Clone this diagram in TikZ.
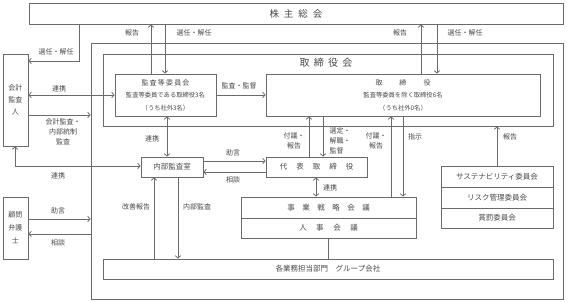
\documentclass[tikz,border=0pt]{standalone}
\usepackage{fontspec}
\setmainfont{Noto Sans CJK JP}
\usetikzlibrary{arrows.meta}
\definecolor{ln}{HTML}{6A6A6A}
\definecolor{tx}{HTML}{484848}
\tikzset{
  bx/.style={draw=ln, line width=0.75pt, inner sep=0pt, text=tx, align=center,
    font=\fontsize{7.5}{9}\selectfont},
  txt/.style={inner sep=0pt, text=tx, align=center},
  lab/.style={inner sep=0pt, text=tx, align=center, font=\fontsize{7}{10}\selectfont},
  conn/.style={draw=ln, line width=0.75pt},
  >={Straight Barb[length=2.5pt,width=5.5pt]},
}
\begin{document}
\begin{tikzpicture}[x=1pt,y=-1pt]
\useasboundingbox (0,0) rectangle (568,302);
% boxes
\node[bx, minimum width=534pt, minimum height=21pt] (sh) at (296,13.5)
  {\fontsize{9.5}{10}\selectfont 株\hspace{5pt}主\hspace{5pt}総\hspace{5pt}会};
\node[bx, minimum width=472pt, minimum height=256pt] (grp) at (327,171) {};
\node[bx, minimum width=450pt, minimum height=72pt] (board) at (328,90) {};
\node[txt, font=\fontsize{10}{11}\selectfont] (boardt) at (326,63)
  {取\hspace{4.3pt}締\hspace{4.3pt}役\hspace{4.3pt}会};
\node[bx, minimum width=101pt, minimum height=42pt, font=\fontsize{6.3}{12.5}\selectfont] (ac) at (165.5,95)
  {{\fontsize{7}{12.5}\selectfont 監\hspace{1.2pt}査\hspace{1.2pt}等\hspace{1.2pt}委\hspace{1.2pt}員\hspace{1.2pt}会}\\
   監査等委員である取締役3名\\（うち社外3名）};
\node[bx, minimum width=274pt, minimum height=42pt, font=\fontsize{6.3}{12.5}\selectfont] (dir) at (403,95)
  {{\fontsize{7}{12.5}\selectfont 取\hspace{17pt}締\hspace{17pt}役}\\
   監査等委員を除く取締役6名\\（うち社外0名）};
\node[bx, minimum width=25pt, minimum height=92pt, font=\fontsize{7}{12}\selectfont] (aud) at (15.5,100)
  {会計\\監査\\人};
\node[bx, minimum width=25pt, minimum height=62pt, font=\fontsize{7}{13}\selectfont] (law) at (15.5,228)
  {顧問\\弁護\\士};
\node[bx, minimum width=62pt, minimum height=20pt] (ia) at (172,167) {内部監査室};
\node[bx, minimum width=101pt, minimum height=20pt] (rep) at (316.5,167)
  {代\hspace{9pt}表\hspace{9pt}取\hspace{9pt}締\hspace{9pt}役};
\node[bx, minimum width=175pt, minimum height=21pt] (strat) at (328.5,207.5)
  {事\hspace{7.5pt}業\hspace{7.5pt}戦\hspace{7.5pt}略\hspace{7.5pt}会\hspace{7.5pt}議};
\node[bx, minimum width=175pt, minimum height=20pt] (hr) at (328.5,228)
  {人\hspace{9.5pt}事\hspace{9.5pt}会\hspace{9.5pt}議};
\node[bx, minimum width=112pt, minimum height=21pt] (sus) at (497,176.5) {サステナビリティ委員会};
\node[bx, minimum width=112pt, minimum height=21pt] (risk) at (497,197.5) {リスク管理委員会};
\node[bx, minimum width=112pt, minimum height=20pt] (rew) at (497,218) {賞罰委員会};
\node[bx, minimum width=450pt, minimum height=20pt] (dept) at (328,269)
  {各業務担当部門　グループ会社};
% connectors
\draw[conn,->] (sh.south -| 79,0) |- (aud.east |- 0,61);
\draw[conn,->] (ac.north -| 151,0) -- (sh.south -| 151,0);
\draw[conn,->] (sh.south -| 165,0) -- (ac.north -| 165,0);
\draw[conn,->] (dir.north -| 421,0) -- (sh.south -| 421,0);
\draw[conn,->] (sh.south -| 437,0) -- (dir.north -| 437,0);
\draw[conn,<->] (aud.east |- 0,95) -- (ac.west |- 0,95);
\draw[conn,->] (ac.east |- 0,95) -- (dir.west |- 0,95);
\draw[conn,->] (aud.east |- 0,115) -- (grp.west |- 0,115);
\draw[conn,<->] (ac.south -| 167,0) -- (ia.north -| 167,0);
\draw[conn,<->] (aud.south -| 15,0) |- (ia.west |- 0,166);
\draw[conn,->] (ia.east |- 0,161) -- (rep.west |- 0,161);
\draw[conn,->] (rep.west |- 0,172) -- (ia.east |- 0,172);
\draw[conn,->] (rep.north -| 309,0) -- (dir.south -| 309,0);
\draw[conn,->] (dir.south -| 323,0) -- (rep.north -| 323,0);
\draw[conn,<->] (rep.south -| 316,0) -- (strat.north -| 316,0);
\draw[conn,->] (strat.north -| 391,0) -- (dir.south -| 391,0);
\draw[conn,->] (dir.south -| 403,0) -- (strat.north -| 403,0);
\draw[conn,->] (sus.north) -- (board.south -| sus.north);
\draw[conn,->] (dept.north -| 154,0) -- (ia.south -| 154,0);
\draw[conn,->] (ia.south -| 178,0) -- (dept.north -| 178,0);
\draw[conn] (hr.south -| 328,0) -- (dept.north -| 328,0);
\draw[conn,->] (law.east |- 0,219) -- (grp.west |- 0,219);
\draw[conn,->] (grp.west |- 0,234) -- (law.east |- 0,234);
% labels
\node[lab] (l1) at (56,52) {選任・解任};
\node[lab] (l2) at (132,33) {報告};
\node[lab] (l3) at (194,33) {選任・解任};
\node[lab] (l4) at (400,33) {報告};
\node[lab] (l5) at (465,33) {選任・解任};
\node[lab] (l6) at (59,89) {連携};
\node[lab] (l7) at (239,86) {監査・監督};
\node[lab] (l8) at (63,132) {会計監査・\\内部統制\\監査};
\node[lab] (l9) at (152,139) {連携};
\node[lab] (l10) at (58,176) {連携};
\node[lab] (l11) at (233,153) {助言};
\node[lab] (l12) at (233,180) {相談};
\node[lab] (l13) at (294,141) {付議・\\報告};
\node[lab, align=left] (l14) at (340,141) {選定・\\解職・\\監督};
\node[lab] (l15) at (376,141) {付議・\\報告};
\node[lab] (l16) at (415,137) {指示};
\node[lab] (l17) at (510,137) {報告};
\node[lab] (l18) at (330,188) {連携};
\node[lab] (l19) at (136,207) {改善報告};
\node[lab] (l20) at (197,207) {内部監査};
\node[lab] (l21) at (58,211) {助言};
\node[lab] (l22) at (58,243) {相談};
\end{tikzpicture}
\end{document}
